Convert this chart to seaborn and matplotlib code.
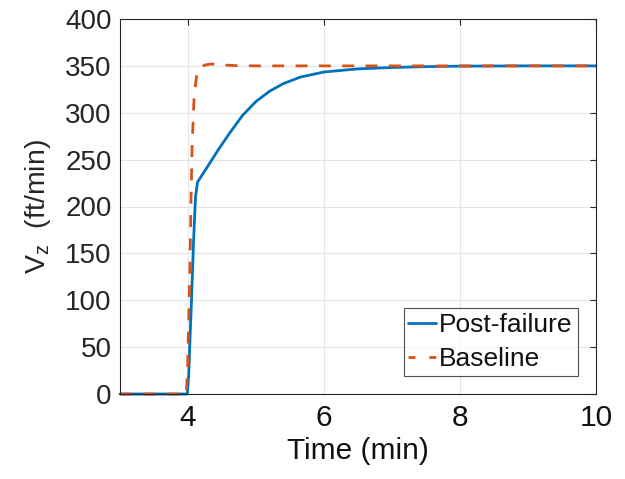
import matplotlib
matplotlib.use("Agg")
import matplotlib.pyplot as plt
import seaborn as sns
import pandas as pd

# Data
post_t = [3.0, 3.99, 4.01, 4.03, 4.05, 4.08, 4.11, 4.14, 4.30, 4.45, 4.60, 4.80, 5.00,
          5.20, 5.40, 5.65, 6.00, 6.50, 7.00, 7.50, 8.00, 9.00, 10.0]
post_v = [0, 0, 20, 60, 97, 160, 210, 226, 244, 261, 277, 297, 312,
          323, 331, 338, 343.5, 346.8, 348.3, 349.2, 349.7, 350, 350]

base_t = [3.0, 3.975, 3.995, 4.015, 4.03, 4.045, 4.06, 4.09, 4.13, 4.18, 4.25, 4.35,
          4.50, 4.70, 5.00, 10.0]
base_v = [0, 0, 30, 97, 140, 210, 264, 317, 342, 348, 351, 352,
          351, 350.3, 350, 350]

x_ticks = [4, 6, 8, 10]
y_ticks = [0, 50, 100, 150, 200, 250, 300, 350, 400]

sns.set_style("white")
plt.rcParams['font.family'] = ['Liberation Sans', 'DejaVu Sans']
plt.rcParams['mathtext.fontset'] = 'custom'
plt.rcParams['mathtext.rm'] = 'Liberation Sans'
plt.rcParams['mathtext.it'] = 'Liberation Sans'

df_post = pd.DataFrame({"t": post_t, "v": post_v})
df_base = pd.DataFrame({"t": base_t, "v": base_v})

fig = plt.figure(figsize=(6.25, 4.79), dpi=100)
ax = fig.add_axes([120/625, 1-394/479, (596-120)/625, (394-19)/479])

sns.lineplot(data=df_post, x="t", y="v", ax=ax, color="#0072BD", lw=2.0,
             label="Post-failure", clip_on=False, estimator=None, sort=False)
sns.lineplot(data=df_base, x="t", y="v", ax=ax, color="#D95319", lw=2.0,
             label="Baseline", clip_on=False, estimator=None, sort=False)
ax.lines[1].set_linestyle((0, (4.3, 4.1)))

ax.set_xlim(3, 10)
ax.set_ylim(0, 400)
ax.set_xticks(x_ticks)
ax.set_yticks(y_ticks)
ax.grid(True, color="#e5e5e5", lw=0.8)
ax.set_axisbelow(True)
for s in ax.spines.values():
    s.set_color("#262626")
    s.set_linewidth(0.8)
    s.set_visible(True)
ax.tick_params(direction="in", length=4, width=0.8, color="#262626",
               top=True, right=True)
ax.tick_params(axis="x", labelsize=21.5, labelcolor="#111111", pad=7.5)
ax.tick_params(axis="y", labelsize=20, labelcolor="#262626", pad=6)

ax.set_xlabel("Time (min)", fontsize=21.5, color="#111111", labelpad=3)
ax.set_ylabel(r"V$_{\mathregular{z}}$  (ft/min)", fontsize=20.5, color="#262626",
              labelpad=9)

leg = ax.legend(loc="lower right", fontsize=19, frameon=True, fancybox=False,
                handlelength=1.05, handletextpad=0.12, borderpad=0.18,
                labelspacing=0.38, borderaxespad=0.7)
leg.get_frame().set_edgecolor("#262626")
leg.get_frame().set_linewidth(0.8)
for t in leg.get_texts():
    t.set_color("#111111")
leg.get_lines()[1].set_linestyle((0, (2.5, 5.0)))

fig.savefig("out.png", dpi=100)
